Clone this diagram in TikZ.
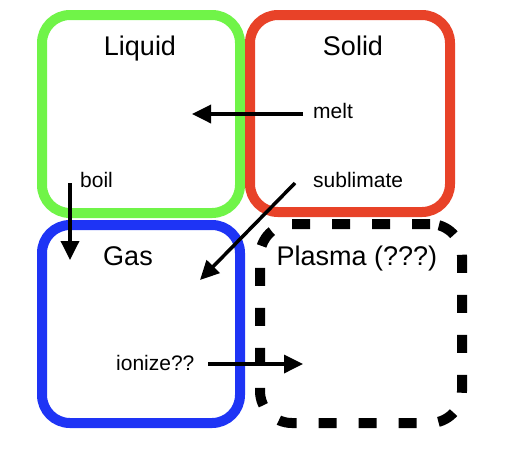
\documentclass[tikz,border=0pt]{standalone}
\usepackage{fontspec}
\setmainfont{Liberation Sans}
\usetikzlibrary{arrows.meta}
\definecolor{liqgreen}{RGB}{112,244,72}
\definecolor{solred}{RGB}{232,66,40}
\definecolor{gasblue}{RGB}{30,52,245}
\begin{document}
\begin{tikzpicture}[x=1pt,y=-1pt,
  statebox/.style={rectangle, rounded corners=28pt, line width=10pt, inner sep=0pt},
  title/.style={font=\fontsize{27}{30}\selectfont, anchor=base, inner sep=0pt},
  lbl/.style={font=\fontsize{21}{24}\selectfont, anchor=base west, inner sep=0pt},
  trans/.style={line width=3.5pt, -{Triangle[length=19pt,width=18pt]}}]
\useasboundingbox (0,0) rectangle (505,459);
% boxes
\node[statebox, draw=liqgreen, minimum width=198pt, minimum height=198pt] (liquid) at (141,114) {};
\node[statebox, draw=solred, minimum width=200pt, minimum height=197pt] (solid) at (350,113.5) {};
\node[statebox, draw=gasblue, minimum width=198pt, minimum height=198pt] (gas) at (141,324) {};
\node[statebox, draw=black, dash pattern=on 18pt off 22pt, rounded corners=32pt, minimum width=202pt, minimum height=199pt] (plasma) at (361,323.5) {};
% titles
\node[title] (tliquid) at (140,55) {Liquid};
\node[title] (tsolid) at (353,55) {Solid};
\node[title] (tgas) at (128,265) {Gas};
\node[title] (tplasma) at (357,265) {Plasma (???)};
% labels
\node[lbl] (melt) at (313,118) {melt};
\node[lbl] (subl) at (313,187) {sublimate};
\node[lbl] (boil) at (80,187) {boil};
\node[lbl] (ion) at (116,370) {ionize??};
% arrow endpoints
\coordinate (meltS) at (303,114);
\coordinate (meltE) at (192,114);
\coordinate (boilS) at (70,183);
\coordinate (boilE) at (70,260);
\coordinate (sublS) at (295,183);
\coordinate (sublE) at (200,280);
\coordinate (ionS) at (208,364);
\coordinate (ionE) at (303,364);
\draw[trans] (meltS) -- (meltE);
\draw[trans] (boilS) -- (boilE);
\draw[trans] (sublS) -- (sublE);
\draw[trans] (ionS) -- (ionE);
\end{tikzpicture}
\end{document}
